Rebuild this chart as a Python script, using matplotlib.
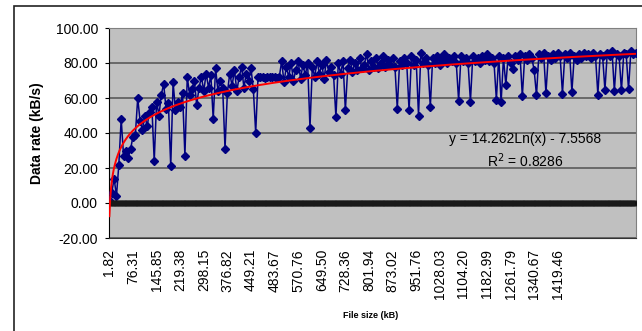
import numpy as np
import matplotlib.pyplot as plt
from matplotlib.patches import Rectangle

plt.rcParams['font.family'] = ['Liberation Sans', 'DejaVu Sans']

# category count of the original sheet and the sampled data rates (every 3rd category)
n_categories = 670
step = 3
rates = [
    2, 6, 14, 4, 22, 48, 27, 30, 26, 31,
    38, 39, 60, 47, 42, 50, 44, 52, 55, 24,
    58, 50, 62, 68, 54, 57, 21, 69, 53, 58,
    55, 63, 27, 72, 62, 65, 70, 56, 66, 72,
    64, 74, 66, 73, 48, 77, 64, 70, 66, 31,
    63, 74, 67, 76, 64, 72, 78, 66, 74, 70,
    77, 65, 40, 72, 72, 72, 71.5, 72, 72, 72,
    72, 71.5, 72, 81, 69, 78, 72, 80, 70, 76,
    81, 71, 79, 73, 80, 43, 78, 72, 81, 74,
    79, 71, 82, 75, 78, 73, 49, 80, 74, 81,
    53, 77, 82, 75, 80, 76, 83, 77, 79, 85,
    76, 81, 78, 83, 77, 80, 84, 78, 82, 79,
    83, 78, 54, 81, 79, 83, 80, 53, 84, 79,
    82, 50, 86, 80, 83, 79, 55, 83, 80, 84,
    79, 82, 85, 80, 83, 81, 84, 80, 58.5, 84,
    81, 83, 80, 58, 84, 81, 83, 80, 84, 82,
    85, 81, 83, 80, 59, 84, 57.5, 83, 67.5, 84,
    80, 76.5, 84, 82, 85, 61, 84, 82, 85, 83,
    76, 61.5, 85, 83, 86, 62.7, 84, 82, 85, 83,
    86, 84, 62.5, 85, 83, 86, 63.6, 84, 82, 85,
    83, 86, 84, 85, 83, 86, 84, 62, 85, 84,
    64.6, 86, 84, 87, 64, 85, 84, 64.4, 86, 85,
    65, 87, 85, 86,
]
zero_series = [0.0] * n_categories

tick_every = 30
file_sizes = ['1.82', '76.31', '145.85', '219.38', '298.15', '376.82', '449.21',
              '483.67', '570.76', '649.50', '728.36', '801.94', '873.02', '951.76',
              '1028.03', '1104.20', '1182.99', '1261.79', '1340.67', '1419.46']

# logarithmic trendline shown on the chart
trend_a, trend_b = 14.262, -7.5568

W, H = 642, 331
fig = plt.figure(figsize=(W / 100, H / 100), dpi=100)
fig.patches.append(Rectangle((14 / W, -0.1), 1.1, 1 - 6 / H + 0.1, transform=fig.transFigure,
                             fill=False, ec='#222222', lw=1.2))

ax = fig.add_axes([109 / W, 1 - 238 / H, 527 / W, 210 / H])
ax.set_facecolor('#c0c0c0')

cats = np.arange(len(rates)) * step + 1
ax.plot(cats, rates, color='#000080', lw=1.1, marker='D', ms=4, zorder=3)

allcats = np.arange(1, n_categories + 1)
ax.plot(allcats, zero_series, color='#111111', lw=1, marker='s', ms=2.6, mec='#1a1a1a', zorder=3)

tx = np.linspace(1, n_categories, 600)
ax.plot(tx, trend_a * np.log(tx) + trend_b, color='#ff0000', lw=1.4, zorder=4)

ax.set_xlim(0.5, n_categories + 0.5)
ax.set_ylim(-20, 100)
ax.set_yticks(np.arange(-20, 101, 20))
ax.set_yticklabels([f'{v:.2f}' for v in np.arange(-20, 101, 20)])
ax.yaxis.grid(True, color='#5a5a5a', lw=1.2)
ax.set_axisbelow(True)

ax.set_xticks(np.arange(len(file_sizes)) * tick_every + 1)
ax.set_xticklabels(file_sizes, rotation=90)
ax.tick_params(axis='x', length=0, pad=8, labelsize=10)
ax.tick_params(axis='y', length=3, direction='out', pad=5, labelsize=10)

for s in ['top', 'right']:
    ax.spines[s].set_color('#808080')
ax.spines['left'].set_color('#000000')
ax.spines['bottom'].set_color('#333333')

fig.text(525 / W, 1 - 139 / H, 'y = 14.262Ln(x) - 7.5568', ha='center', va='center', fontsize=10)
fig.text(525 / W, 1 - 161 / H, 'R$^2$ = 0.8286', ha='center', va='center', fontsize=10)

fig.text(37 / W, 1 - 133 / H, 'Data rate (kB/s)', rotation=90, ha='center', va='center',
         fontsize=10, fontweight='bold')
fig.text(371 / W, 1 - 315 / H, 'File size (kB)', ha='center', va='center',
         fontsize=6.5, fontweight='bold')

fig.savefig('out.png', dpi=100)
